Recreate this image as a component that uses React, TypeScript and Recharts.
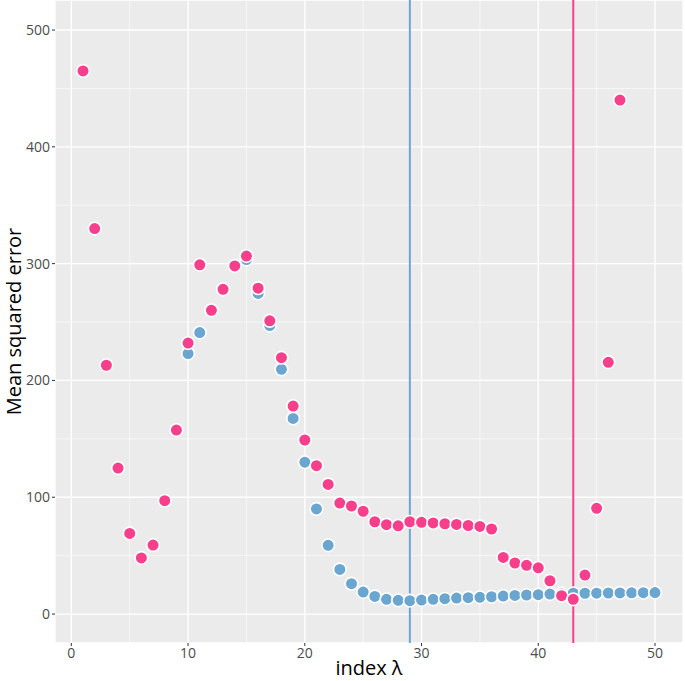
import React from 'react';
import {
  ScatterChart,
  Scatter,
  XAxis,
  YAxis,
  CartesianGrid,
  ReferenceLine
} from 'recharts';

// index λ for each series
const pinkIndex = [
  1, 2, 3, 4, 5, 6, 7, 8, 9, 10, 11, 12, 13, 14, 15, 16, 17, 18, 19, 20, 21, 22, 23, 24,
  25, 26, 27, 28, 29, 30, 31, 32, 33, 34, 35, 36, 37, 38, 39, 40, 41, 42, 43, 44, 45, 46, 47
];
const pinkMse = [
  465, 330, 213, 125, 69, 48, 59, 97, 157.5, 232, 299, 260, 278, 298, 306.5, 279, 251, 219.5,
  178, 149, 127, 111, 95, 92.5, 88, 79, 76.5, 75.5, 79, 78.5, 78, 77.3, 76.7, 75.8, 75,
  72.8, 48.5, 43.7, 41.7, 39.6, 28.5, 15.7, 12.6, 33.4, 90.5, 215.5, 440
];

const blueIndex = [
  10, 11, 12, 13, 14, 15, 16, 17, 18, 19, 20, 21, 22, 23, 24, 25, 26, 27, 28, 29, 30,
  31, 32, 33, 34, 35, 36, 37, 38, 39, 40, 41, 42, 43, 44, 45, 46, 47, 48, 49, 50
];
const blueMse = [
  223, 241, 260, 278, 298, 303.5, 274.5, 247, 209.5, 167.5, 130, 90, 58.8, 38.2, 26, 18.8,
  15.1, 12.6, 11.7, 11.4, 12, 12.6, 13.1, 13.7, 14, 14.3, 14.8, 15.4, 15.9, 16.3, 16.6,
  17.1, 17.4, 17.8, 17.8, 17.9, 18, 18.1, 18.2, 18.3, 18.4
];

const xTicks = [0, 10, 20, 30, 40, 50];
const yTicks = [0, 100, 200, 300, 400, 500];
const xMinor = [5, 15, 25, 35, 45];
const yMinor = [50, 150, 250, 350, 450];

const bestBlue = 29;
const bestPink = 43;

const BLUE = '#6aa6d0';
const PINK = '#f73f8c';

const pinkData = pinkIndex.map((x, i) => ({ x, y: pinkMse[i] }));
const blueData = blueIndex.map((x, i) => ({ x, y: blueMse[i] }));

const Dot = (props: any) => {
  const { cx, cy, fill } = props;
  return <circle cx={cx} cy={cy} r={6.3} fill={fill} stroke="#ffffff" strokeWidth={1.6} />;
};

const tickStyle = { fill: '#4d4d4d', fontSize: 14, fontFamily: 'Open Sans' };

export default function App() {
  return (
    <div style={{ position: 'absolute', left: 0, top: 0 }}>
      <ScatterChart
        width={685}
        height={681}
        margin={{ top: 0, right: 2, bottom: 0, left: 0 }}
        style={{ fontFamily: 'Open Sans' }}
      >
        <CartesianGrid fill="#ebebeb" stroke="#ffffff" strokeWidth={1.3} />
        {xMinor.map(v => (
          <ReferenceLine key={'vx' + v} x={v} stroke="#ffffff" strokeWidth={0.6} />
        ))}
        {yMinor.map(v => (
          <ReferenceLine key={'hy' + v} y={v} stroke="#ffffff" strokeWidth={0.6} />
        ))}
        <XAxis
          type="number"
          dataKey="x"
          domain={[-1.4, 52.4]}
          ticks={xTicks}
          allowDataOverflow
          height={38}
          axisLine={false}
          tickSize={3}
          tickMargin={2}
          tickLine={{ stroke: '#333333' }}
          tick={tickStyle}
          label={{
            value: 'index λ',
            position: 'insideBottom',
            offset: 6,
            fill: '#000000',
            fontSize: 20
          }}
        />
        <YAxis
          type="number"
          dataKey="y"
          domain={[-24.8, 525.7]}
          ticks={yTicks}
          allowDataOverflow
          width={55}
          axisLine={false}
          tickSize={3}
          tickMargin={2}
          tickLine={{ stroke: '#333333' }}
          tick={tickStyle}
          label={{
            value: 'Mean squared error',
            angle: -90,
            position: 'insideLeft',
            offset: 14,
            fill: '#000000',
            fontSize: 20,
            style: { textAnchor: 'middle' }
          }}
        />
        <ReferenceLine x={bestBlue} stroke={BLUE} strokeWidth={2} />
        <ReferenceLine x={bestPink} stroke={PINK} strokeWidth={2} />
        <Scatter data={blueData} fill={BLUE} shape={<Dot />} isAnimationActive={false} />
        <Scatter data={pinkData} fill={PINK} shape={<Dot />} isAnimationActive={false} />
      </ScatterChart>
    </div>
  );
}
